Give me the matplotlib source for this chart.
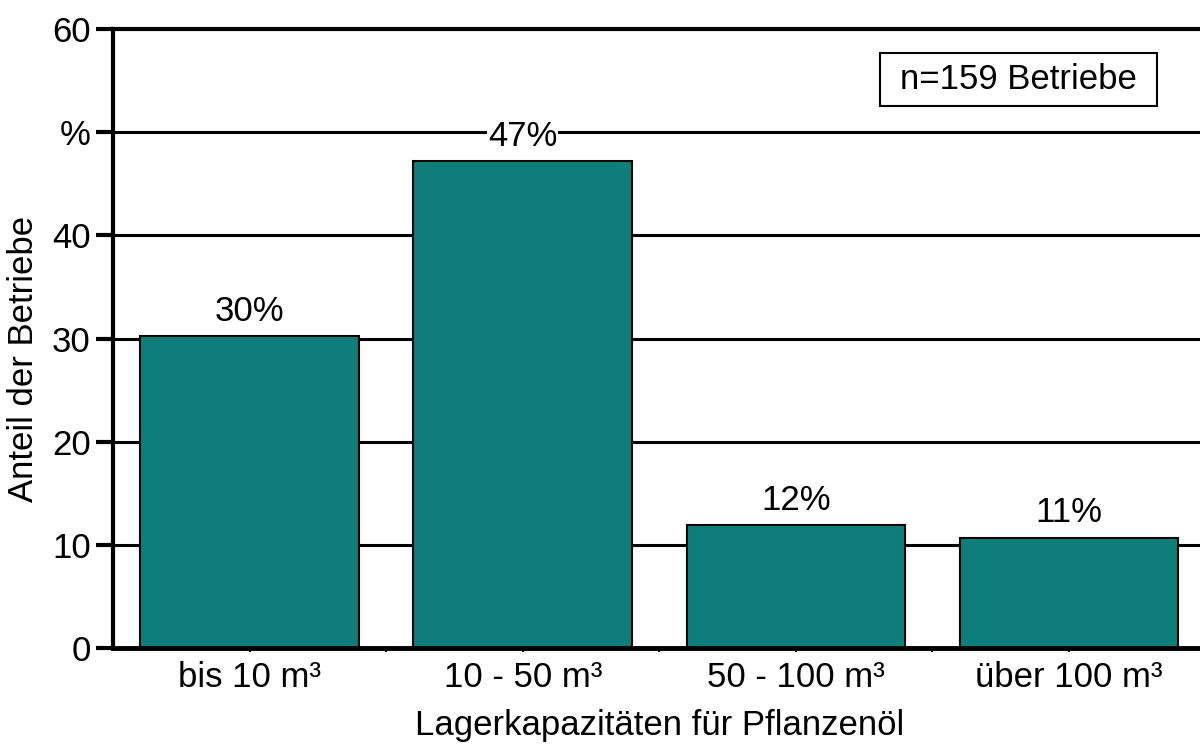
import numpy as np
import matplotlib.pyplot as plt
from matplotlib.ticker import FixedLocator
from matplotlib.patches import Rectangle

plt.rcParams['font.family'] = ['Liberation Sans', 'DejaVu Sans']

# data
categories = ['bis 10 m³', '10 - 50 m³', '50 - 100 m³', 'über 100 m³']
anteil = [30.2, 47.2, 11.9, 10.7]
bar_labels = ['30%', '47%', '12%', '11%']
ytick_vals = [0, 10, 20, 30, 40, 50, 60]
ytick_labels = ['0', '10', '20', '30', '40', '%', '60']

fs = 25

fig = plt.figure(figsize=(12, 7.53), dpi=100)
ax = fig.add_axes([0.0942, 0.1394, 0.9104, 0.8221])

x = np.arange(len(categories))
ax.bar(x, anteil, width=0.8, color='#0F7E7B', edgecolor='black', linewidth=1.5, zorder=2)

for xi, v, lab in zip(x, anteil, bar_labels):
    ax.annotate(lab, (xi, v), xytext=(0, 6), textcoords='offset points',
                ha='center', va='bottom', fontsize=fs, zorder=3,
                bbox=dict(facecolor='white', edgecolor='none', pad=0.5))

ax.set_xlim(-0.5, 3.5)
ax.set_ylim(0, 60)
ax.set_yticks(ytick_vals)
ax.set_yticklabels(ytick_labels, fontsize=fs)
ax.yaxis.set_minor_locator(FixedLocator([5, 15, 25, 35, 45, 55]))
ax.set_xticks(x)
ax.set_xticklabels(categories, fontsize=fs)
ax.xaxis.set_minor_locator(FixedLocator([0.5, 1.5, 2.5]))

ax.tick_params(axis='y', which='major', length=12, width=3, pad=4)
ax.tick_params(axis='y', which='minor', length=3, width=1.5, direction='inout')
ax.tick_params(axis='x', which='major', length=3, width=1.5, pad=6)
ax.tick_params(axis='x', which='minor', length=3, width=1.5)

for y in ytick_vals[1:-1]:
    ax.axhline(y, color='black', linewidth=2.2, zorder=1)

ax.spines['left'].set_linewidth(3)
ax.spines['bottom'].set_linewidth(3.5)
ax.spines['top'].set_linewidth(3)
ax.spines['right'].set_visible(False)
for s in ax.spines.values():
    s.set_zorder(4)

ax.set_ylabel('Anteil der Betriebe', fontsize=fs)
ax.yaxis.set_label_coords(-0.0668, 0.467)
ax.set_xlabel('Lagerkapazitäten für Pflanzenöl', fontsize=fs, labelpad=11)

# n box
ax.add_patch(Rectangle((0.7021, 0.8756), 0.2535, 0.0856, transform=ax.transAxes,
                       facecolor='white', edgecolor='black', linewidth=1.5, zorder=5))
ax.text(0.8284, 0.9176, 'n=159 Betriebe', transform=ax.transAxes, fontsize=fs,
        ha='center', va='center', zorder=6)

fig.savefig('out.png', dpi=100)
